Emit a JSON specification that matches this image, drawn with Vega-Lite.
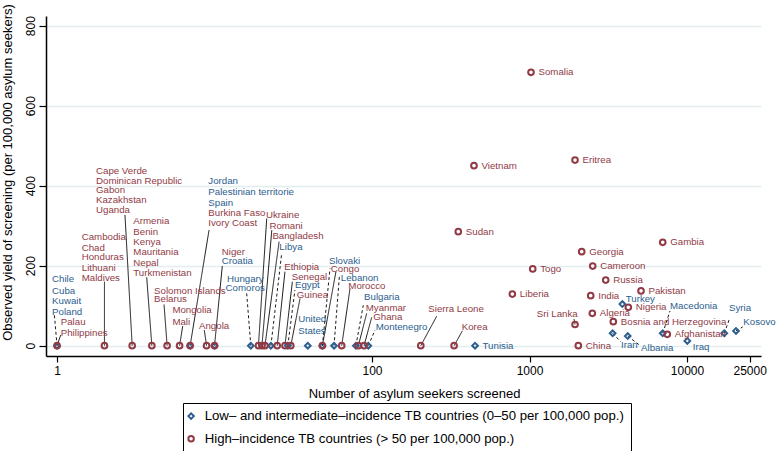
{
  "$schema": "https://vega.github.io/schema/vega-lite/v6.json",
  "width": 715,
  "height": 340,
  "autosize": {"type": "none"},
  "padding": {"left": 46, "top": 16, "right": 15, "bottom": 95},
  "background": "white",
  "config": {
    "font": "Liberation Sans",
    "view": {"stroke": null},
    "axis": {"domainColor": "black", "domainWidth": 1.5, "tickColor": "black", "tickWidth": 1.2, "labelColor": "black", "titleColor": "black", "labelFont": "Liberation Sans", "titleFont": "Liberation Sans", "titleFontWeight": "normal"},
    "text": {"font": "Liberation Sans"}
  },
  "datasets": {
    "points": [
      {"x": 1, "y": 0, "type": "L"},
      {"x": 7, "y": 0, "type": "L"},
      {"x": 10, "y": 0, "type": "L"},
      {"x": 17, "y": 0, "type": "L"},
      {"x": 22.8, "y": 0, "type": "L"},
      {"x": 29.2, "y": 0, "type": "L"},
      {"x": 39.1, "y": 0, "type": "L"},
      {"x": 48.4, "y": 0, "type": "L"},
      {"x": 57.4, "y": 0, "type": "L"},
      {"x": 79, "y": 0, "type": "L"},
      {"x": 94.7, "y": 0, "type": "L"},
      {"x": 451, "y": 0, "type": "L", "label": "Tunisia"},
      {"x": 3884, "y": 104, "type": "L"},
      {"x": 3373, "y": 31, "type": "L"},
      {"x": 4203, "y": 24, "type": "L"},
      {"x": 7012, "y": 31, "type": "L"},
      {"x": 10046, "y": 12, "type": "L"},
      {"x": 17250, "y": 31, "type": "L"},
      {"x": 20470, "y": 37, "type": "L"},
      {"x": 1, "y": 0, "type": "H"},
      {"x": 2, "y": 0, "type": "H"},
      {"x": 3, "y": 0, "type": "H"},
      {"x": 4, "y": 0, "type": "H"},
      {"x": 5, "y": 0, "type": "H"},
      {"x": 6, "y": 0, "type": "H"},
      {"x": 7, "y": 0, "type": "H"},
      {"x": 8.9, "y": 0, "type": "H"},
      {"x": 10, "y": 0, "type": "H"},
      {"x": 19, "y": 0, "type": "H"},
      {"x": 20, "y": 0, "type": "H"},
      {"x": 20.9, "y": 0, "type": "H"},
      {"x": 25, "y": 0, "type": "H"},
      {"x": 28, "y": 0, "type": "H"},
      {"x": 30.5, "y": 0, "type": "H"},
      {"x": 48.4, "y": 0, "type": "H"},
      {"x": 64.2, "y": 0, "type": "H"},
      {"x": 81.9, "y": 0, "type": "H"},
      {"x": 89, "y": 0, "type": "H"},
      {"x": 204, "y": 0, "type": "H"},
      {"x": 332, "y": 0, "type": "H"},
      {"x": 2041, "y": 0, "type": "H", "label": "China"},
      {"x": 1022, "y": 683.5, "type": "H", "label": "Somalia"},
      {"x": 1945, "y": 464, "type": "H", "label": "Eritrea"},
      {"x": 444, "y": 450, "type": "H", "label": "Vietnam"},
      {"x": 353, "y": 285, "type": "H", "label": "Sudan"},
      {"x": 7012, "y": 258.5, "type": "H", "label": "Gambia"},
      {"x": 2145, "y": 235, "type": "H", "label": "Georgia"},
      {"x": 2519, "y": 199, "type": "H", "label": "Cameroon"},
      {"x": 1048, "y": 192, "type": "H", "label": "Togo"},
      {"x": 3047, "y": 164, "type": "H", "label": "Russia"},
      {"x": 5105, "y": 137, "type": "H", "label": "Pakistan"},
      {"x": 778, "y": 129, "type": "H", "label": "Liberia"},
      {"x": 2447, "y": 125, "type": "H", "label": "India"},
      {"x": 4240, "y": 96, "type": "H", "label": "Nigeria"},
      {"x": 2505, "y": 81, "type": "H", "label": "Algeria"},
      {"x": 3404, "y": 60, "type": "H", "label": "Bosnia and Herzegovina"},
      {"x": 1945, "y": 53, "type": "H"},
      {"x": 7497, "y": 28.5, "type": "H", "label": "Afghanistan"}
    ],
    "leaders": [
      {"x": 1, "y": 0, "x2": 0.961, "y2": 79, "type": "L"},
      {"x": 17, "y": 0, "x2": 16.0, "y2": 131, "type": "L"},
      {"x": 22.8, "y": 0, "x2": 26.7, "y2": 231, "type": "L"},
      {"x": 29.2, "y": 0, "x2": 32.4, "y2": 139, "type": "L"},
      {"x": 48.4, "y": 0, "x2": 54.1, "y2": 193, "type": "L"},
      {"x": 57.4, "y": 0, "x2": 62, "y2": 172, "type": "L"},
      {"x": 79, "y": 0, "x2": 88, "y2": 101, "type": "L"},
      {"x": 94.7, "y": 0, "x2": 104.5, "y2": 39, "type": "L"},
      {"x": 3373, "y": 31, "x2": 3793, "y2": 10, "type": "L"},
      {"x": 4203, "y": 24, "x2": 4978, "y2": 2, "type": "L"},
      {"x": 7012, "y": 31, "x2": 7801, "y2": 87, "type": "L"},
      {"x": 17250, "y": 31, "x2": 18480, "y2": 64, "type": "L"},
      {"x": 20470, "y": 37, "x2": 22580, "y2": 47, "type": "L"},
      {"x": 1, "y": 0, "x2": 1.056, "y2": 27, "type": "H"},
      {"x": 2, "y": 0, "x2": 2, "y2": 160, "type": "H"},
      {"x": 3, "y": 0, "x2": 2.70, "y2": 327, "type": "H"},
      {"x": 4, "y": 0, "x2": 3.71, "y2": 171, "type": "H"},
      {"x": 5, "y": 0, "x2": 4.78, "y2": 103, "type": "H"},
      {"x": 6, "y": 0, "x2": 6.28, "y2": 49, "type": "H"},
      {"x": 7, "y": 0, "x2": 9.23, "y2": 289, "type": "H"},
      {"x": 8.9, "y": 0, "x2": 8.61, "y2": 39, "type": "H"},
      {"x": 10, "y": 0, "x2": 11.2, "y2": 199, "type": "H"},
      {"x": 19, "y": 0, "x2": 21.45, "y2": 318, "type": "H"},
      {"x": 20, "y": 0, "x2": 23.1, "y2": 289, "type": "H"},
      {"x": 20.9, "y": 0, "x2": 25.7, "y2": 260, "type": "H"},
      {"x": 25, "y": 0, "x2": 28, "y2": 185, "type": "H"},
      {"x": 28, "y": 0, "x2": 31.2, "y2": 160, "type": "H"},
      {"x": 30.5, "y": 0, "x2": 34.9, "y2": 118, "type": "H"},
      {"x": 48.4, "y": 0, "x2": 59, "y2": 185, "type": "H"},
      {"x": 64.2, "y": 0, "x2": 72.5, "y2": 143, "type": "H"},
      {"x": 81.9, "y": 0, "x2": 92.5, "y2": 81, "type": "H"},
      {"x": 89, "y": 0, "x2": 99.5, "y2": 71, "type": "H"},
      {"x": 204, "y": 0, "x2": 257.6, "y2": 74, "type": "H"},
      {"x": 332, "y": 0, "x2": 374.5, "y2": 37, "type": "H"},
      {"x": 1945, "y": 53, "x2": 1916, "y2": 67, "type": "H"}
    ],
    "labels": [
      {"text": "Chile", "x": 0.930, "y": 166, "type": "L"},
      {"text": "Cuba", "x": 0.930, "y": 136.75, "type": "L"},
      {"text": "Kuwait", "x": 0.930, "y": 111.75, "type": "L"},
      {"text": "Poland", "x": 0.930, "y": 85, "type": "L"},
      {"text": "Jordan", "x": 9.13, "y": 412.5, "type": "L"},
      {"text": "Palestinian territorie", "x": 9.13, "y": 385, "type": "L"},
      {"text": "Spain", "x": 9.13, "y": 357.5, "type": "L"},
      {"text": "Croatia", "x": 11.11, "y": 211.75, "type": "L"},
      {"text": "Hungary", "x": 12.0, "y": 166, "type": "L"},
      {"text": "Comoros", "x": 11.75, "y": 145, "type": "L"},
      {"text": "Libya", "x": 25.8, "y": 246, "type": "L"},
      {"text": "Egypt", "x": 32.4, "y": 152, "type": "L"},
      {"text": "United", "x": 34.0, "y": 66.75, "type": "L"},
      {"text": "States", "x": 34.0, "y": 37, "type": "L"},
      {"text": "Slovaki", "x": 53.3, "y": 211.75, "type": "L"},
      {"text": "Lebanon", "x": 63.3, "y": 170, "type": "L"},
      {"text": "Bulgaria", "x": 89, "y": 122.5, "type": "L"},
      {"text": "Montenegro", "x": 105.5, "y": 46, "type": "L"},
      {"text": "Turkey", "x": 4082, "y": 116.75, "type": "L"},
      {"text": "Iran", "x": 3811, "y": 1.75, "type": "L"},
      {"text": "Albania", "x": 5105, "y": -6.5, "type": "L"},
      {"text": "Iraq", "x": 10870, "y": -2.5, "type": "L"},
      {"text": "Macedonia", "x": 7801, "y": 100, "type": "L"},
      {"text": "Syria", "x": 18480, "y": 93.5, "type": "L"},
      {"text": "Kosovo", "x": 22780, "y": 58.5, "type": "L"},
      {"text": "Palau", "x": 1.056, "y": 58.5, "type": "H"},
      {"text": "Philippines", "x": 1.056, "y": 32.5, "type": "H"},
      {"text": "Cambodia", "x": 1.435, "y": 271, "type": "H"},
      {"text": "Chad", "x": 1.435, "y": 243.5, "type": "H"},
      {"text": "Honduras", "x": 1.435, "y": 221, "type": "H"},
      {"text": "Lithuani", "x": 1.435, "y": 195, "type": "H"},
      {"text": "Maldives", "x": 1.435, "y": 170, "type": "H"},
      {"text": "Cape Verde", "x": 1.768, "y": 437.5, "type": "H"},
      {"text": "Dominican Republic", "x": 1.768, "y": 412.5, "type": "H"},
      {"text": "Gabon", "x": 1.768, "y": 389.25, "type": "H"},
      {"text": "Kazakhstan", "x": 1.768, "y": 364.25, "type": "H"},
      {"text": "Uganda", "x": 1.768, "y": 339.25, "type": "H"},
      {"text": "Armenia", "x": 3.05, "y": 311.75, "type": "H"},
      {"text": "Benin", "x": 3.05, "y": 285, "type": "H"},
      {"text": "Kenya", "x": 3.05, "y": 260, "type": "H"},
      {"text": "Mauritania", "x": 3.05, "y": 233.5, "type": "H"},
      {"text": "Nepal", "x": 3.05, "y": 207.5, "type": "H"},
      {"text": "Turkmenistan", "x": 3.05, "y": 182.5, "type": "H"},
      {"text": "Solomon Islands", "x": 4.13, "y": 137.5, "type": "H"},
      {"text": "Belarus", "x": 4.13, "y": 116, "type": "H"},
      {"text": "Mongolia", "x": 5.40, "y": 89.25, "type": "H"},
      {"text": "Mali", "x": 5.40, "y": 58.5, "type": "H"},
      {"text": "Burkina Faso", "x": 9.13, "y": 331, "type": "H"},
      {"text": "Ivory Coast", "x": 9.13, "y": 306, "type": "H"},
      {"text": "Angola", "x": 7.97, "y": 50, "type": "H"},
      {"text": "Niger", "x": 11.11, "y": 235, "type": "H"},
      {"text": "Ukraine", "x": 21.2, "y": 326.75, "type": "H"},
      {"text": "Romani", "x": 22.3, "y": 299.25, "type": "H"},
      {"text": "Bangladesh", "x": 23.3, "y": 274.25, "type": "H"},
      {"text": "Ethiopia", "x": 27.7, "y": 196, "type": "H"},
      {"text": "Senegal", "x": 30.9, "y": 172.5, "type": "H"},
      {"text": "Guinea", "x": 33.3, "y": 127, "type": "H"},
      {"text": "Congo", "x": 54.7, "y": 191, "type": "H"},
      {"text": "Morocco", "x": 70.7, "y": 150, "type": "H"},
      {"text": "Myanmar", "x": 91.2, "y": 95, "type": "H"},
      {"text": "Ghana", "x": 101.9, "y": 71, "type": "H"},
      {"text": "Sierra Leone", "x": 227.8, "y": 91.75, "type": "H"},
      {"text": "Korea", "x": 371, "y": 46, "type": "H"},
      {"text": "Sri Lanka", "x": 1111, "y": 79.25, "type": "H"}
    ]
  },
  "encoding": {
    "x": {
      "field": "x", "type": "quantitative",
      "scale": {"type": "log", "domain": [0.851, 29500], "nice": false},
      "axis": {
        "values": [1, 100, 1000, 10000, 25000], "format": "d",
        "title": "Number of asylum seekers screened",
        "grid": false, "tickSize": 6, "labelFontSize": 12,
        "labelBaseline": "middle", "labelPadding": 8.7,
        "labelFlush": false, "labelOverlap": false,
        "titleFontSize": 13, "titleX": 368, "titleY": 37,
        "titleAlign": "center", "titleBaseline": "middle"
      }
    },
    "y": {
      "field": "y", "type": "quantitative",
      "scale": {"domain": [-25.75, 824.25], "nice": false, "zero": false},
      "axis": {
        "values": [0, 200, 400, 600, 800],
        "title": "Observed yield of screening (per 100,000 asylum seekers)",
        "grid": true, "gridColor": "#e3edef", "gridWidth": 1.5,
        "tickSize": 7, "labelFontSize": 12, "labelAngle": 270,
        "labelAlign": "center", "labelBaseline": "middle", "labelPadding": 9,
        "titleFontSize": 13, "titleAngle": 270, "titleX": -39, "titleY": 156,
        "titleAlign": "center", "titleBaseline": "middle"
      }
    }
  },
  "layer": [
    {
      "data": {"name": "leaders"},
      "mark": {"type": "rule", "color": "black", "strokeWidth": 0.9},
      "encoding": {
        "x2": {"field": "x2"},
        "y2": {"field": "y2"},
        "strokeDash": {"condition": {"test": "datum.type === 'L'", "value": [3, 2.5]}, "value": [1, 0]}
      }
    },
    {
      "data": {"name": "points"},
      "mark": {"type": "point", "filled": false, "strokeWidth": 2, "size": 32, "opacity": 1},
      "encoding": {
        "color": {
          "field": "type", "type": "nominal",
          "scale": {"domain": ["L", "H"], "range": ["#2c5e8e", "#913a45"]},
          "legend": {
            "orient": "none", "legendX": 137, "legendY": 387, "title": null,
            "strokeColor": "black", "fillColor": "white", "padding": 6.5,
            "symbolSize": 30, "symbolStrokeWidth": 2, "symbolOffset": -5, "labelFontSize": 13.2, "labelLimit": 1000,
            "labelOffset": 7, "rowPadding": 7.7, "labelFont": "Liberation Sans",
            "labelExpr": "datum.value === 'L' ? 'Low– and intermediate–incidence TB countries (0–50 per 100,000 pop.)' : 'High–incidence TB countries (> 50 per 100,000 pop.)'"
          }
        },
        "shape": {
          "field": "type", "type": "nominal",
          "scale": {"domain": ["L", "H"], "range": ["diamond", "circle"]},
          "legend": {
            "orient": "none", "legendX": 137, "legendY": 387, "title": null,
            "strokeColor": "black", "fillColor": "white", "padding": 6.5,
            "symbolSize": 30, "symbolStrokeWidth": 2, "symbolOffset": -5, "labelFontSize": 13.2, "labelLimit": 1000,
            "labelOffset": 7, "rowPadding": 7.7, "labelFont": "Liberation Sans",
            "labelExpr": "datum.value === 'L' ? 'Low– and intermediate–incidence TB countries (0–50 per 100,000 pop.)' : 'High–incidence TB countries (> 50 per 100,000 pop.)'"
          }
        }
      }
    },
    {
      "data": {"name": "points"},
      "transform": [{"filter": "datum.label != null"}],
      "mark": {"type": "text", "align": "left", "baseline": "middle", "dx": 7.5, "fontSize": 9.7},
      "encoding": {
        "text": {"field": "label"},
        "color": {"condition": {"test": "datum.type === 'L'", "value": "#2c5e8e"}, "value": "#913a45"}
      }
    },
    {
      "data": {"name": "labels"},
      "mark": {"type": "text", "align": "left", "baseline": "middle", "fontSize": 9.7},
      "encoding": {
        "text": {"field": "text"},
        "color": {"condition": {"test": "datum.type === 'L'", "value": "#2c5e8e"}, "value": "#913a45"}
      }
    }
  ]
}
